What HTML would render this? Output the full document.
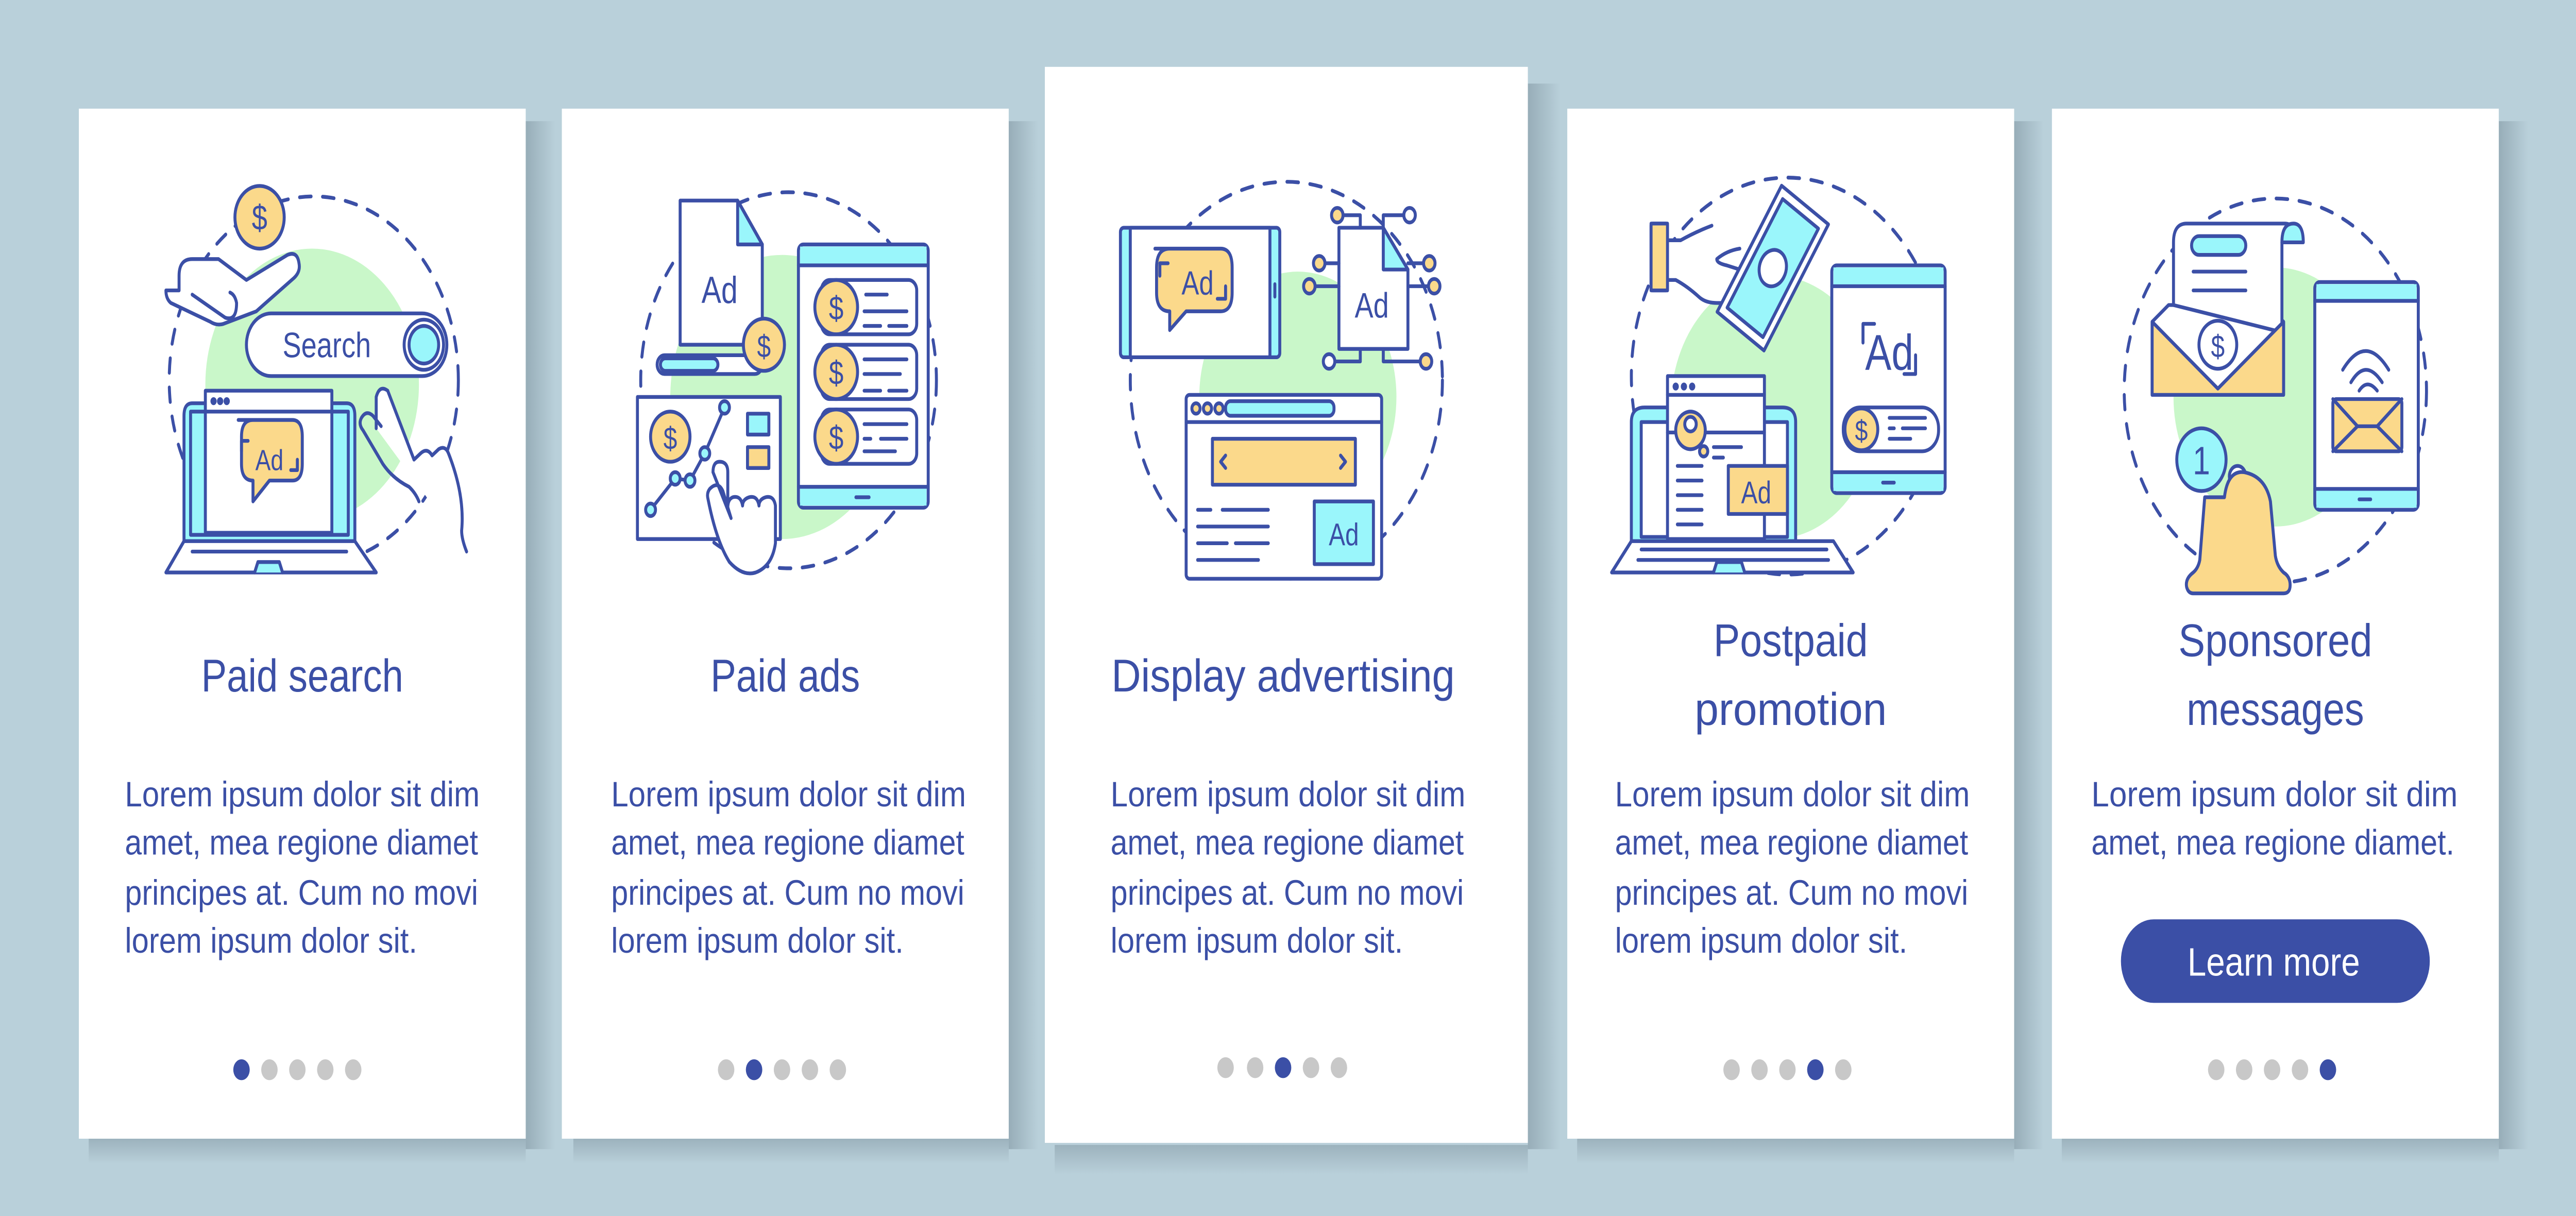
<!DOCTYPE html>
<html><head><meta charset="utf-8"><style>
html,body{margin:0;padding:0;background:#b9d0da;width:100%;height:100%;overflow:hidden;}
svg{display:block;position:fixed;left:0;top:0;width:100vw;height:100vh;}
text{font-family:"Liberation Sans",sans-serif;fill:#3b4fa6;}
</style></head><body>
<svg viewBox="0 0 1568 582" preserveAspectRatio="none" xmlns="http://www.w3.org/2000/svg">
<defs>
<linearGradient id="sr" x1="0" x2="1" y1="0" y2="0"><stop offset="0" stop-color="#97adb8"/><stop offset="1" stop-color="#b9d0da"/></linearGradient>
<linearGradient id="sb" x1="0" x2="0" y1="0" y2="1"><stop offset="0" stop-color="#9cb2bd"/><stop offset="1" stop-color="#b9d0da"/></linearGradient>
</defs>
<rect width="1568" height="582" fill="#b9d0da"/>
<g>
<rect x="320" y="58" width="18" height="492" fill="url(#sr)"/><rect x="54" y="545" width="266" height="12" fill="url(#sb)"/>
<rect x="614" y="58" width="18" height="492" fill="url(#sr)"/><rect x="349" y="545" width="265" height="12" fill="url(#sb)"/>
<rect x="930" y="40" width="20" height="510" fill="url(#sr)"/><rect x="642" y="548" width="288" height="14" fill="url(#sb)"/>
<rect x="1226" y="58" width="18" height="492" fill="url(#sr)"/><rect x="960" y="545" width="266" height="12" fill="url(#sb)"/>
<rect x="1521" y="58" width="18" height="492" fill="url(#sr)"/><rect x="1255" y="545" width="266" height="12" fill="url(#sb)"/>
</g>
<rect x="48" y="52" width="272" height="493" fill="#fff"/>
<rect x="342" y="52" width="272" height="493" fill="#fff"/>
<rect x="636" y="32" width="294" height="515" fill="#fff"/>
<rect x="954" y="52" width="272" height="493" fill="#fff"/>
<rect x="1249" y="52" width="272" height="493" fill="#fff"/>

<g fill="#c9f7c9">
<circle cx="190" cy="184" r="65"/>
<circle cx="476" cy="190" r="68"/>
<circle cx="790" cy="190" r="60"/>
<circle cx="1080" cy="195" r="63"/>
<circle cx="1385" cy="190" r="62"/>
</g>

<g fill="none" stroke="#3b4fa6" stroke-width="1.8" stroke-linecap="round" stroke-linejoin="round">
<g stroke-dasharray="7 7">
<circle cx="191" cy="182" r="88"/>
<circle cx="480" cy="182" r="90"/>
<circle cx="783" cy="182" r="95"/>
<circle cx="1088" cy="180" r="95"/>
<circle cx="1385" cy="187" r="92"/>
</g>
</g>

<g stroke="#3b4fa6" stroke-width="1.8" stroke-linecap="round" stroke-linejoin="round">
<!-- CARD 1 -->
<path d="M109 139 v-7 q0-8 8-8 h16 l17 10 l25-12 q6-2 7 4 q1 4-3 7 l-23 16 l-20 6 q-4 1-8-1 l-24-9 q-3-2-3-6 z" fill="#fff"/>
<path d="M117 141 l20 11 q7 2 7-7 q-1-4-4-5" fill="none"/>
<circle cx="158" cy="104" r="15" fill="#fbd98b"/>
<text x="158" y="110" font-size="17" text-anchor="middle" stroke="none">$</text>
<rect x="150" y="150" width="122" height="30" rx="15" fill="#fff"/>
<circle cx="258" cy="165" r="12" fill="#fff"/>
<circle cx="258" cy="165" r="9" fill="#9af6fb"/>
<text x="172" y="171" font-size="17" stroke="none">Search</text>
<path d="M229 205 v-15 q2-6 7-3 l16 33 l4-3 q4-3 7 1 l4-3 q4-2 6 2 q10 20 8 37 q0 4 3 10" fill="#fff"/>
<path d="M232 204 l-5-5 q-4-3-7 1 q-2 3 1 6 l12 16 q6 7 16 11 q4 3 6 7" fill="none"/>
<path d="M112 259 v-60 q0-6 5-6 h94 q5 0 5 6 v60 z" fill="#9af6fb"/>
<rect x="116" y="197" width="96" height="59" fill="#9af6fb"/>
<rect x="125" y="187" width="77" height="68" fill="#fff"/>
<line x1="125" y1="197" x2="202" y2="197"/>
<circle cx="130" cy="192" r="1" fill="#3b4fa6"/><circle cx="134" cy="192" r="1" fill="#3b4fa6"/><circle cx="138" cy="192" r="1" fill="#3b4fa6"/>
<path d="M112 259 h104 l13 15 h-128 z" fill="#fff"/>
<line x1="117" y1="264" x2="211" y2="264"/>
<path d="M155 274 l2-5 h13 l2 5" fill="#9af6fb"/>
<path d="M145 201 h33 q6 0 6 8 v13 q0 8-6 8 h-14 l-10 10 v-10 q-7 0-7-8 v-13 q0-8 7-8z" fill="#fbd98b"/>
<text x="164" y="225" font-size="14" text-anchor="middle" stroke="none">Ad</text>
<path d="M147 216 v-5 h4 M181 220 v5 h-4" fill="none"/>

<!-- CARD 2 -->
<path d="M414 96 h35 l15 21 v48 h-50 z" fill="#fff"/>
<path d="M449 96 v21 h15 z" fill="#9af6fb"/>
<text x="438" y="145" font-size="18" text-anchor="middle" stroke="none">Ad</text>
<rect x="400" y="170" width="64" height="9" rx="4.5" fill="#fff"/>
<rect x="402" y="171.5" width="35" height="6" rx="3" fill="#9af6fb"/>
<circle cx="465" cy="165" r="12.5" fill="#fbd98b"/>
<text x="465" y="171" font-size="15" text-anchor="middle" stroke="none">$</text>
<rect x="486" y="117" width="79" height="126" rx="3" fill="#fff"/>
<path d="M487 118 h77 v9 h-77z M487 233 h77 v9 h-77z" fill="#9af6fb" stroke="none"/>
<line x1="486" y1="127" x2="565" y2="127"/><line x1="486" y1="233" x2="565" y2="233"/>
<line x1="521" y1="238" x2="529" y2="238"/>
<g>
<rect x="500" y="134" width="58" height="26" rx="5" fill="#fff"/><circle cx="509" cy="147" r="13" fill="#fbd98b"/><text x="509" y="153" font-size="16" text-anchor="middle" stroke="none">$</text>
<path d="M527 141 h13 M526 149 h26 M526 156 h10 M541 156 h11" fill="none"/>
<rect x="500" y="165" width="58" height="26" rx="5" fill="#fff"/><circle cx="509" cy="178" r="13" fill="#fbd98b"/><text x="509" y="184" font-size="16" text-anchor="middle" stroke="none">$</text>
<path d="M526 172 h26 M526 179 h22 M526 187 h10 M541 187 h11" fill="none"/>
<rect x="500" y="196" width="58" height="26" rx="5" fill="#fff"/><circle cx="509" cy="209" r="13" fill="#fbd98b"/><text x="509" y="215" font-size="16" text-anchor="middle" stroke="none">$</text>
<path d="M526 203 h26 M526 210 h4 M536 210 h16 M526 216 h19" fill="none"/>
</g>
<rect x="388" y="190" width="87" height="68" fill="#fff"/>
<circle cx="408" cy="209" r="12" fill="#fbd98b"/><text x="408" y="215" font-size="15" text-anchor="middle" stroke="none">$</text>
<polyline points="396,244 411,229 420,230 429,217 441,195" fill="none"/>
<circle cx="396" cy="244" r="3" fill="#9af6fb"/><circle cx="411" cy="229" r="3" fill="#9af6fb"/><circle cx="420" cy="230" r="3" fill="#9af6fb"/><circle cx="429" cy="217" r="3" fill="#9af6fb"/><circle cx="441" cy="195" r="3" fill="#9af6fb"/>
<rect x="455" y="198" width="13" height="10" fill="#9af6fb"/><rect x="455" y="214" width="13" height="10" fill="#fbd98b"/>
<path d="M445 248 l-5-13 q-3-5-8-1 q-2 2-1 5 q5 20 13 30 q8 7 16 5 q10-3 12-14 v-18 q-1-5-6-4 q-4 1-4 4 q-1-5-6-4 q-4 1-4 4 q-1-5-6-4 q-3 1-3 5 v-17 q0-5-5-5 q-4 0-4 5 z" fill="#fff"/>

<!-- CARD 3 -->
<rect x="682" y="109" width="97" height="62" rx="2" fill="#9af6fb"/>
<rect x="688" y="109" width="85" height="62" fill="#fff"/>
<path d="M703 119 h40 q7 0 7 9 v12 q0 9-7 9 h-21 l-10 9 v-9 q-8 0-8-9 v-12 q0-9 8-9z" fill="#fbd98b"/>
<text x="729" y="141" font-size="16" text-anchor="middle" stroke="none">Ad</text>
<path d="M706 132 v-6 h5 M746 137 v6 h-5" fill="none"/>
<line x1="776" y1="136" x2="776" y2="142"/>
<path d="M815 109 h27 l15 20 v38 h-42z" fill="#fff"/>
<path d="M842 109 v20 h15z" fill="#9af6fb"/>
<text x="835" y="152" font-size="17" text-anchor="middle" stroke="none">Ad</text>
<path d="M828 109 v-6 h-11 M842 109 v-6 h13 M815 126 h-10 M815 137 h-15 M857 126 h10 M857 137 h13 M828 167 v6 h-16 M842 167 v6 h23" fill="none"/>
<g fill="#fbd98b"><circle cx="814" cy="103" r="3.5"/><circle cx="803" cy="126" r="3.5"/><circle cx="797" cy="137" r="3.5"/><circle cx="870" cy="126" r="3.5"/><circle cx="873" cy="137" r="3.5"/><circle cx="868" cy="173" r="3.5"/></g>
<circle cx="858" cy="103" r="3.5" fill="#fff"/><circle cx="809" cy="173" r="3.5" fill="#fff"/>
<rect x="722" y="189" width="119" height="88" rx="2" fill="#fff"/>
<line x1="722" y1="202" x2="841" y2="202"/>
<circle cx="728" cy="195.5" r="2.5" fill="#fbd98b"/><circle cx="735" cy="195.5" r="2.5" fill="#fbd98b"/><circle cx="742" cy="195.5" r="2.5" fill="#fbd98b"/>
<rect x="746" y="192" width="66" height="7" rx="3" fill="#9af6fb"/>
<rect x="738" y="210" width="87" height="22" fill="#fbd98b"/>
<path d="M746 218 l-3 3 l3 3 M816 218 l3 3 l-3 3" fill="none"/>
<path d="M729 244 h8 M744 244 h28 M729 252 h43 M729 260 h18 M752 260 h20 M729 268 h37" fill="none"/>
<rect x="800" y="240" width="36" height="30" fill="#9af6fb"/>
<text x="818" y="261" font-size="15" text-anchor="middle" stroke="none">Ad</text>

<!-- CARD 4 -->
<path d="M1042 108 q-10 3-19 7 h-8 v-8 h-10 v32 h10 v-5 h5 q7 3 14 8 q4 3 11 3 h17 q6 0 7-7 q0-6-6-8 l-12-3 q-6-1-6-3 q6-4 14-5" fill="#fff"/>
<rect x="1005" y="107" width="10" height="32" rx="1" fill="#fbd98b"/>
<g transform="translate(1078,130) rotate(33)">
<rect x="-17" y="-38" width="34" height="72" fill="#fff"/>
<rect x="-13" y="-33" width="26" height="62" fill="#9af6fb"/>
<ellipse cx="0" cy="-2" rx="8" ry="9" fill="#fff"/>
</g>
<rect x="1115" y="127" width="69" height="109" rx="3" fill="#fff"/>
<path d="M1116 128 h67 v9 h-67z M1116 226 h67 v9 h-67z" fill="#9af6fb" stroke="none"/>
<line x1="1115" y1="137" x2="1184" y2="137"/><line x1="1115" y1="226" x2="1184" y2="226"/>
<line x1="1146" y1="231" x2="1153" y2="231"/>
<text x="1150" y="177" font-size="24" text-anchor="middle" stroke="none">Ad</text>
<path d="M1134 164 v-9 h7 M1166 170 v9 h-7" fill="none"/>
<rect x="1122" y="195" width="58" height="21" rx="10" fill="#fff"/>
<circle cx="1133" cy="205.5" r="10" fill="#fbd98b"/><text x="1133" y="211" font-size="14" text-anchor="middle" stroke="none">$</text>
<path d="M1150 200 h22 M1150 205 h3 M1158 205 h14 M1150 210 h13" fill="none"/>
<path d="M993 259 v-57 q0-7 8-7 h84 q8 0 8 7 v57 z" fill="#9af6fb"/>
<rect x="999" y="202" width="89" height="55" fill="#fff"/>
<rect x="1015" y="180" width="59" height="78" fill="#fff"/>
<line x1="1015" y1="189" x2="1074" y2="189"/><line x1="1015" y1="207" x2="1074" y2="207"/>
<circle cx="1020" cy="185" r="1" fill="#3b4fa6"/><circle cx="1025" cy="185" r="1" fill="#3b4fa6"/><circle cx="1030" cy="185" r="1" fill="#3b4fa6"/>
<circle cx="1029" cy="206" r="9" fill="#fbd98b"/>
<circle cx="1029" cy="203" r="3.5" fill="#fff"/>
<circle cx="1037" cy="216" r="2.5" fill="#fbd98b"/>
<path d="M1043 214 h17 M1043 219 h6 M1021 223 h15 M1021 230 h15 M1021 237 h15 M1021 244 h15 M1021 251 h15" fill="none"/>
<rect x="1052" y="223" width="36" height="23" fill="#fbd98b"/>
<text x="1069" y="241" font-size="15" text-anchor="middle" stroke="none">Ad</text>
<path d="M993 259 h123 l12 15 h-147 z" fill="#fff"/>
<path d="M999 263 h113 M997 268 h116" fill="none"/>
<path d="M1043 274 l2-5 h15 l2 5" fill="#9af6fb"/>

<!-- CARD 5 -->
<path d="M1310 154 l10-8 h60 l10 8 v35 h-80 z" fill="#fff"/>
<path d="M1323 146 v-30 q0-9 8-9 h60 q6 0 6 9 h-8 v43 z" fill="#fff"/>
<path d="M1389 116 q0-9 7-9 q6 0 6 9 z" fill="#9af6fb"/>
<rect x="1334" y="113" width="33" height="9" rx="4.5" fill="#9af6fb"/>
<path d="M1335 130 h32 M1335 139 h32" fill="none"/>
<path d="M1310 154 l40 32 l40-32 v35 h-80 z" fill="#fbd98b"/>
<circle cx="1350" cy="165" r="11.5" fill="#fff"/><text x="1350" y="171" font-size="15" text-anchor="middle" stroke="none">$</text>
<rect x="1409" y="135" width="63" height="109" rx="3" fill="#fff"/>
<path d="M1410 136 h61 v8 h-61z M1410 234 h61 v9 h-61z" fill="#9af6fb" stroke="none"/>
<line x1="1409" y1="144" x2="1472" y2="144"/><line x1="1409" y1="234" x2="1472" y2="234"/>
<line x1="1436" y1="239" x2="1443" y2="239"/>
<path d="M1426 177 q14-18 28 0 M1431 183 q9-12 19 0 M1436 187 q5-6 11 0" fill="none"/>
<rect x="1420" y="191" width="42" height="25" rx="2" fill="#fbd98b"/>
<path d="M1420 191 l15 13 h12 l15-13 M1420 216 l15-12 M1462 216 l-15-12" fill="none"/>
<path d="M1344 268 q3 6 9 6 q7 0 9-6" fill="#fff"/>
<circle cx="1362" cy="228" r="5" fill="#fff"/>
<path d="M1342 238 l-3 30 q-1 4-4 6 q-5 3-4 7 q1 3 4 3 h55 q4 0 4-4 q0-4-4-6 q-4-3-5-8 l-3-26 q-3-12-16-14 q-10-1-12 12 z" fill="#fbd98b"/>
<circle cx="1340" cy="220" r="15" fill="#9af6fb"/>
<text x="1340" y="227" font-size="19" text-anchor="middle" stroke="none">1</text>
</g>

<g font-size="22" text-anchor="middle">
<text x="184" y="331" textLength="123" lengthAdjust="spacingAndGlyphs">Paid search</text>
<text x="478" y="331" textLength="91" lengthAdjust="spacingAndGlyphs">Paid ads</text>
<text x="781" y="331" textLength="209" lengthAdjust="spacingAndGlyphs">Display advertising</text>
<text x="1090" y="314" textLength="94" lengthAdjust="spacingAndGlyphs">Postpaid</text>
<text x="1090" y="347" textLength="117" lengthAdjust="spacingAndGlyphs">promotion</text>
<text x="1385" y="314" textLength="118" lengthAdjust="spacingAndGlyphs">Sponsored</text>
<text x="1385" y="347" textLength="108" lengthAdjust="spacingAndGlyphs">messages</text>
</g>
<g font-size="17">
<text x="76" y="386" textLength="216" lengthAdjust="spacingAndGlyphs">Lorem ipsum dolor sit dim</text>
<text x="76" y="409" textLength="215" lengthAdjust="spacingAndGlyphs">amet, mea regione diamet</text>
<text x="76" y="433" textLength="215" lengthAdjust="spacingAndGlyphs">principes at. Cum no movi</text>
<text x="76" y="456" textLength="178" lengthAdjust="spacingAndGlyphs">lorem ipsum dolor sit.</text>
<text x="372" y="386" textLength="216" lengthAdjust="spacingAndGlyphs">Lorem ipsum dolor sit dim</text>
<text x="372" y="409" textLength="215" lengthAdjust="spacingAndGlyphs">amet, mea regione diamet</text>
<text x="372" y="433" textLength="215" lengthAdjust="spacingAndGlyphs">principes at. Cum no movi</text>
<text x="372" y="456" textLength="178" lengthAdjust="spacingAndGlyphs">lorem ipsum dolor sit.</text>
<text x="676" y="386" textLength="216" lengthAdjust="spacingAndGlyphs">Lorem ipsum dolor sit dim</text>
<text x="676" y="409" textLength="215" lengthAdjust="spacingAndGlyphs">amet, mea regione diamet</text>
<text x="676" y="433" textLength="215" lengthAdjust="spacingAndGlyphs">principes at. Cum no movi</text>
<text x="676" y="456" textLength="178" lengthAdjust="spacingAndGlyphs">lorem ipsum dolor sit.</text>
<text x="983" y="386" textLength="216" lengthAdjust="spacingAndGlyphs">Lorem ipsum dolor sit dim</text>
<text x="983" y="409" textLength="215" lengthAdjust="spacingAndGlyphs">amet, mea regione diamet</text>
<text x="983" y="433" textLength="215" lengthAdjust="spacingAndGlyphs">principes at. Cum no movi</text>
<text x="983" y="456" textLength="178" lengthAdjust="spacingAndGlyphs">lorem ipsum dolor sit.</text>
<text x="1273" y="386" textLength="223" lengthAdjust="spacingAndGlyphs">Lorem ipsum dolor sit dim</text>
<text x="1273" y="409" textLength="221" lengthAdjust="spacingAndGlyphs">amet, mea regione diamet.</text>
</g>
<rect x="1291" y="440" width="188" height="40" rx="20" fill="#3b4fa6"/>
<text x="1384" y="467" font-size="19" text-anchor="middle" textLength="105" lengthAdjust="spacingAndGlyphs" style="fill:#fff">Learn more</text>
<g fill="#c8c8c8">
<circle cx="164" cy="512" r="5"/><circle cx="181" cy="512" r="5"/><circle cx="198" cy="512" r="5"/><circle cx="215" cy="512" r="5"/>
<circle cx="442" cy="512" r="5"/><circle cx="476" cy="512" r="5"/><circle cx="493" cy="512" r="5"/><circle cx="510" cy="512" r="5"/>
<circle cx="746" cy="511" r="5"/><circle cx="764" cy="511" r="5"/><circle cx="798" cy="511" r="5"/><circle cx="815" cy="511" r="5"/>
<circle cx="1054" cy="512" r="5"/><circle cx="1071" cy="512" r="5"/><circle cx="1088" cy="512" r="5"/><circle cx="1122" cy="512" r="5"/>
<circle cx="1349" cy="512" r="5"/><circle cx="1366" cy="512" r="5"/><circle cx="1383" cy="512" r="5"/><circle cx="1400" cy="512" r="5"/>
</g>
<g fill="#3b4fa6">
<circle cx="147" cy="512" r="5"/><circle cx="459" cy="512" r="5"/><circle cx="781" cy="511" r="5"/><circle cx="1105" cy="512" r="5"/><circle cx="1417" cy="512" r="5"/>
</g>
</svg>
</body></html>
